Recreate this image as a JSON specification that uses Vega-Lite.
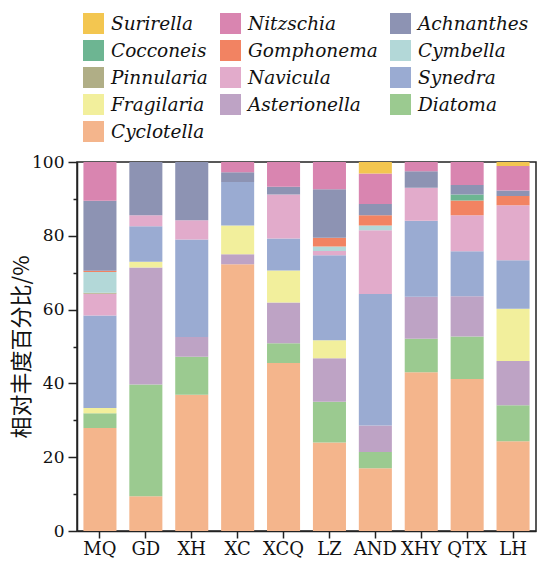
{
  "$schema": "https://vega.github.io/schema/vega-lite/v6.json",
  "width": 459,
  "height": 369,
  "autosize": {"type": "none"},
  "padding": {"left": 77, "top": 162, "right": 3, "bottom": 32},
  "background": "white",
  "config": {
    "font": "DejaVu Serif",
    "view": {"stroke": "#222", "strokeWidth": 1.5},
    "axis": {"labelFont": "DejaVu Serif", "domainColor": "#222", "domainWidth": 1.5, "tickColor": "#222", "tickWidth": 1.5, "labelColor": "#111", "grid": false},
    "legend": {"labelFont": "DejaVu Serif"}
  },
  "data": {
    "values": [
      {"site": "MQ", "genus": "Cyclotella", "pct": 27.9},
      {"site": "MQ", "genus": "Diatoma", "pct": 4.0},
      {"site": "MQ", "genus": "Fragilaria", "pct": 1.4},
      {"site": "MQ", "genus": "Synedra", "pct": 25.1},
      {"site": "MQ", "genus": "Navicula", "pct": 5.9},
      {"site": "MQ", "genus": "Pinnularia", "pct": 0.3},
      {"site": "MQ", "genus": "Cymbella", "pct": 5.6},
      {"site": "MQ", "genus": "Gomphonema", "pct": 0.3},
      {"site": "MQ", "genus": "Achnanthes", "pct": 19.0},
      {"site": "MQ", "genus": "Nitzschia", "pct": 10.5},
      {"site": "GD", "genus": "Cyclotella", "pct": 9.4},
      {"site": "GD", "genus": "Diatoma", "pct": 30.3},
      {"site": "GD", "genus": "Asterionella", "pct": 31.7},
      {"site": "GD", "genus": "Fragilaria", "pct": 1.6},
      {"site": "GD", "genus": "Synedra", "pct": 9.6},
      {"site": "GD", "genus": "Navicula", "pct": 3.0},
      {"site": "GD", "genus": "Achnanthes", "pct": 14.4},
      {"site": "XH", "genus": "Cyclotella", "pct": 36.9},
      {"site": "XH", "genus": "Diatoma", "pct": 10.3},
      {"site": "XH", "genus": "Asterionella", "pct": 5.4},
      {"site": "XH", "genus": "Synedra", "pct": 26.4},
      {"site": "XH", "genus": "Navicula", "pct": 5.2},
      {"site": "XH", "genus": "Achnanthes", "pct": 15.8},
      {"site": "XC", "genus": "Cyclotella", "pct": 72.3},
      {"site": "XC", "genus": "Asterionella", "pct": 2.7},
      {"site": "XC", "genus": "Fragilaria", "pct": 7.8},
      {"site": "XC", "genus": "Synedra", "pct": 11.8},
      {"site": "XC", "genus": "Achnanthes", "pct": 2.6},
      {"site": "XC", "genus": "Nitzschia", "pct": 2.8},
      {"site": "XCQ", "genus": "Cyclotella", "pct": 45.5},
      {"site": "XCQ", "genus": "Diatoma", "pct": 5.4},
      {"site": "XCQ", "genus": "Asterionella", "pct": 11.0},
      {"site": "XCQ", "genus": "Fragilaria", "pct": 8.7},
      {"site": "XCQ", "genus": "Synedra", "pct": 8.7},
      {"site": "XCQ", "genus": "Navicula", "pct": 11.9},
      {"site": "XCQ", "genus": "Achnanthes", "pct": 2.1},
      {"site": "XCQ", "genus": "Nitzschia", "pct": 6.7},
      {"site": "LZ", "genus": "Cyclotella", "pct": 24.0},
      {"site": "LZ", "genus": "Diatoma", "pct": 11.0},
      {"site": "LZ", "genus": "Asterionella", "pct": 11.8},
      {"site": "LZ", "genus": "Fragilaria", "pct": 4.9},
      {"site": "LZ", "genus": "Synedra", "pct": 23.0},
      {"site": "LZ", "genus": "Navicula", "pct": 1.2},
      {"site": "LZ", "genus": "Cymbella", "pct": 1.2},
      {"site": "LZ", "genus": "Gomphonema", "pct": 2.4},
      {"site": "LZ", "genus": "Achnanthes", "pct": 13.1},
      {"site": "LZ", "genus": "Nitzschia", "pct": 7.4},
      {"site": "AND", "genus": "Cyclotella", "pct": 17.0},
      {"site": "AND", "genus": "Diatoma", "pct": 4.4},
      {"site": "AND", "genus": "Asterionella", "pct": 7.2},
      {"site": "AND", "genus": "Synedra", "pct": 35.6},
      {"site": "AND", "genus": "Navicula", "pct": 17.3},
      {"site": "AND", "genus": "Cymbella", "pct": 1.3},
      {"site": "AND", "genus": "Gomphonema", "pct": 2.8},
      {"site": "AND", "genus": "Achnanthes", "pct": 3.0},
      {"site": "AND", "genus": "Nitzschia", "pct": 8.3},
      {"site": "AND", "genus": "Surirella", "pct": 3.1},
      {"site": "XHY", "genus": "Cyclotella", "pct": 43.0},
      {"site": "XHY", "genus": "Diatoma", "pct": 9.1},
      {"site": "XHY", "genus": "Asterionella", "pct": 11.4},
      {"site": "XHY", "genus": "Synedra", "pct": 20.6},
      {"site": "XHY", "genus": "Navicula", "pct": 8.9},
      {"site": "XHY", "genus": "Achnanthes", "pct": 4.5},
      {"site": "XHY", "genus": "Nitzschia", "pct": 2.5},
      {"site": "QTX", "genus": "Cyclotella", "pct": 41.2},
      {"site": "QTX", "genus": "Diatoma", "pct": 11.5},
      {"site": "QTX", "genus": "Asterionella", "pct": 10.9},
      {"site": "QTX", "genus": "Synedra", "pct": 12.2},
      {"site": "QTX", "genus": "Navicula", "pct": 9.8},
      {"site": "QTX", "genus": "Gomphonema", "pct": 4.0},
      {"site": "QTX", "genus": "Cocconeis", "pct": 1.6},
      {"site": "QTX", "genus": "Achnanthes", "pct": 2.6},
      {"site": "QTX", "genus": "Nitzschia", "pct": 6.2},
      {"site": "LH", "genus": "Cyclotella", "pct": 24.3},
      {"site": "LH", "genus": "Diatoma", "pct": 9.8},
      {"site": "LH", "genus": "Asterionella", "pct": 12.0},
      {"site": "LH", "genus": "Fragilaria", "pct": 14.1},
      {"site": "LH", "genus": "Synedra", "pct": 13.2},
      {"site": "LH", "genus": "Navicula", "pct": 14.9},
      {"site": "LH", "genus": "Gomphonema", "pct": 2.5},
      {"site": "LH", "genus": "Achnanthes", "pct": 1.5},
      {"site": "LH", "genus": "Nitzschia", "pct": 6.6},
      {"site": "LH", "genus": "Surirella", "pct": 1.1}
    ]
  },
  "transform": [
    {"calculate": "indexof(['Surirella','Nitzschia','Achnanthes','Cocconeis','Gomphonema','Cymbella','Pinnularia','Navicula','Synedra','Fragilaria','Asterionella','Diatoma','Cyclotella'], datum.genus)", "as": "k"}
  ],
  "mark": {"type": "bar"},
  "encoding": {
    "x": {
      "field": "site", "type": "nominal",
      "sort": ["MQ","GD","XH","XC","XCQ","LZ","AND","XHY","QTX","LH"],
      "scale": {"paddingInner": 0.28, "paddingOuter": 0.14},
      "axis": {"title": null, "labelAngle": 0, "labelFont": "DejaVu Serif", "labelFontSize": 18, "tickSize": 7, "labelPadding": 2}
    },
    "y": {
      "field": "pct", "type": "quantitative", "stack": "zero",
      "scale": {"domain": [0, 100], "nice": false},
      "axis": {
        "title": "相对丰度百分比/%",
        "titleFont": "Noto Sans CJK SC",
        "titleFontWeight": "normal",
        "titleFontSize": 22,
        "titleColor": "#111",
        "titleX": -44,
        "titleY": 184.5,
        "titleAngle": -90,
        "titleAlign": "center",
        "titleBaseline": "bottom",
        "values": [0,10,20,30,40,50,60,70,80,90,100],
        "labelExpr": "datum.value % 20 === 0 ? datum.label : ''",
        "labelFont": "DejaVu Serif",
        "labelFontSize": 17,
        "labelPadding": 4,
        "tickSize": {"condition": {"test": "datum.value % 20 === 0", "value": 9}, "value": 4}
      }
    },
    "color": {
      "field": "genus", "type": "nominal",
      "scale": {
        "domain": ["Surirella","Nitzschia","Achnanthes","Cocconeis","Gomphonema","Cymbella","Pinnularia","Navicula","Synedra","Fragilaria","Asterionella","Diatoma","Cyclotella"],
        "range": ["#F3C650","#D985B0","#8D93B3","#6DB592","#F28362","#B3D8D8","#B0AE86","#E2ABCB","#9AABD2","#F2EF9C","#BEA3C5","#9BCA90","#F4B58C"]
      },
      "legend": {
        "title": null,
        "orient": "none",
        "direction": "horizontal",
        "legendX": 6,
        "legendY": -149,
        "columns": 3,
        "symbolType": "square",
        "symbolSize": 441,
        "symbolStrokeWidth": 0,
        "symbolOpacity": 1,
        "labelFont": "DejaVu Serif",
        "labelFontSize": 18.5,
        "labelFontStyle": "italic",
        "labelColor": "#111",
        "labelOffset": 7,
        "labelLimit": 300,
        "rowPadding": 6,
        "columnPadding": 12
      }
    },
    "order": {"field": "k", "type": "quantitative", "sort": "descending"}
  }
}
